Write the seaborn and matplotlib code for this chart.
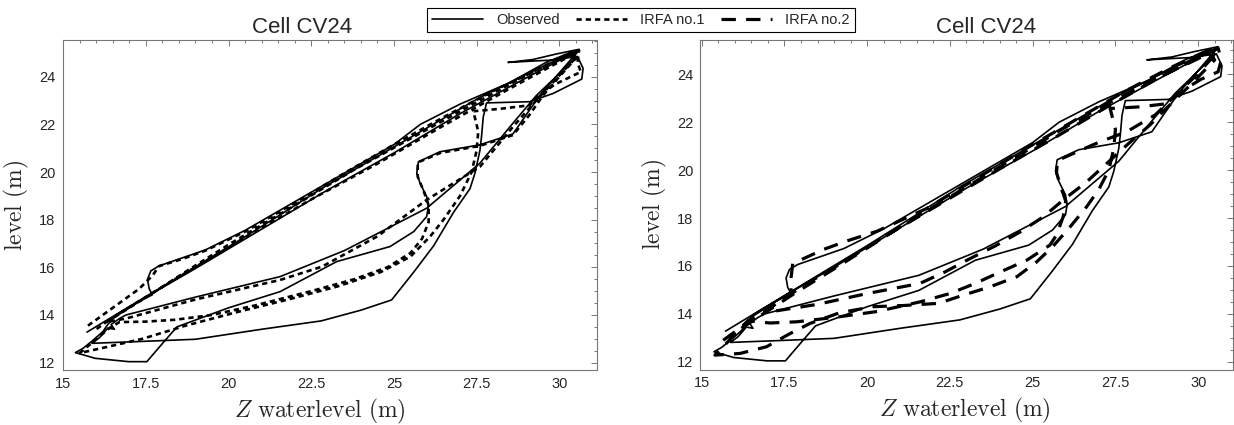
import numpy as np
import pandas as pd
import matplotlib
matplotlib.use("Agg")
import matplotlib.pyplot as plt
from matplotlib.lines import Line2D
from matplotlib.ticker import FixedLocator, FixedFormatter, MultipleLocator
import seaborn as sns

# ---------------- data ----------------
obs_z = [15.72, 17.0, 18.5, 20.0, 21.5, 22.83, 24.5, 26.0, 27.5, 29.0, 30.0, 30.5,
         30.6, 29.9, 29.2, 28.45, 29.8, 30.55, 30.72, 30.68, 29.82, 29.1, 27.8, 27.7, 27.65, 27.6, 27.45, 27.3,
         26.8, 26.2, 25.6, 24.93, 24.0, 22.8, 21.0, 19.0, 17.2, 15.87,
         16.1, 16.35, 16.55, 16.45, 16.7, 16.9, 19.0, 21.56, 23.5, 25.99, 27.6, 28.6, 29.3, 29.9, 30.5,
         30.4, 29.6, 28.5, 27.0, 25.8, 25.0, 23.5, 22.0, 20.5, 19.3, 17.9, 17.65, 17.55, 17.6, 17.7, 17.2, 16.6, 16.35,
         16.2, 15.87, 15.6, 15.37, 15.97, 16.98, 17.53, 18.0, 18.44, 20.0, 21.56, 23.27, 24.88, 25.6, 25.99, 26.04,
         25.99, 25.79, 25.69, 25.74, 26.39, 27.6, 28.6, 29.0, 29.4, 29.9, 30.4, 30.6,
         30.3, 29.0, 27.0, 25.0, 23.0, 21.0, 19.0, 17.5, 16.6, 16.4]
obs_level = [13.28, 14.35, 15.6, 16.85, 18.15, 19.32, 20.65, 21.85, 23.05, 24.1, 24.75, 25.05,
             25.15, 24.95, 24.72, 24.6, 24.7, 24.85, 24.35, 23.9, 23.3, 22.95, 22.9, 22.3, 21.5, 20.9, 19.95, 19.3,
             18.3, 16.9, 15.8, 14.63, 14.2, 13.75, 13.4, 12.98, 12.88, 12.81,
             13.05, 13.45, 13.4, 13.6, 13.85, 14.0, 14.75, 15.61, 16.7, 18.48, 20.37, 22.05, 23.2, 24.0, 24.8,
             25.05, 24.6, 23.75, 22.85, 22.0, 21.15, 19.95, 18.75, 17.55, 16.73, 16.06, 15.85, 15.5, 15.1, 14.85, 14.5, 14.0, 13.6,
             13.3, 12.9, 12.6, 12.42, 12.18, 12.04, 12.04, 12.8, 13.5, 14.3, 14.98, 16.24, 16.87, 17.5, 18.13, 18.55,
             18.97, 19.53, 19.95, 20.43, 20.85, 21.14, 21.6, 22.4, 23.2, 24.0, 24.8, 25.1,
             24.9, 23.95, 22.45, 20.8, 19.25, 17.6, 15.95, 14.75, 13.95, 13.75]

irfa1_z = [15.75, 16.5, 17.3, 17.7, 17.9, 18.6, 19.3, 20.5, 22.0, 23.5, 25.0, 26.5, 28.0, 29.5, 30.6,
           30.55, 30.65, 29.9, 29.35, 29.1, 28.2, 27.4, 27.55, 27.5, 27.35, 27.0, 26.5, 26.1, 25.5, 24.6, 23.3,
           21.8, 20.2, 18.7, 17.4, 16.3, 15.5,
           15.8, 16.1, 16.4, 16.7, 17.5, 18.4, 19.5, 20.8, 22.5, 23.8, 24.8, 25.5, 25.85, 26.05, 26.05, 25.9,
           25.72, 25.72, 26.4, 27.6, 28.6, 29.1, 29.5, 30.0, 30.55,
           30.3, 28.8, 27.2, 25.5, 23.8, 22.0, 20.0, 18.8, 17.8, 17.0, 16.6, 16.3,
           16.9, 19.0, 21.56, 22.83, 24.5, 25.99, 27.6, 28.6, 29.3, 29.9, 30.5,
           30.3, 28.5, 26.5, 24.5, 22.5, 20.5, 18.5, 17.2, 16.4, 16.0]
irfa1_level = [13.55, 14.3, 15.1, 15.65, 16.05, 16.35, 16.7, 17.5, 18.7, 19.95, 21.15, 22.3, 23.4, 24.4, 25.1,
               24.6, 24.2, 23.7, 23.2, 22.8, 22.65, 22.55, 21.7, 20.9, 20.0, 19.0, 18.0, 17.3, 16.45, 15.8, 15.2,
               14.65, 14.1, 13.55, 13.0, 12.65, 12.4,
               12.75, 13.1, 13.45, 13.7, 13.72, 13.8, 14.0, 14.4, 15.0, 15.5, 16.0, 16.6, 17.2, 17.9, 18.6, 19.2,
               19.8, 20.4, 20.8, 21.1, 21.55, 22.4, 23.2, 24.0, 24.85,
               25.0, 23.9, 22.7, 21.4, 20.1, 18.6, 16.95, 15.9, 15.0, 14.3, 13.95, 13.7,
               13.85, 14.65, 15.47, 16.03, 17.3, 18.83, 20.22, 21.9, 23.0, 23.9, 24.8,
               24.85, 23.5, 21.95, 20.35, 18.85, 17.25, 15.6, 14.5, 13.8, 13.4]

irfa2_z = [15.65, 16.0, 16.4, 16.9, 17.6, 18.4, 19.2, 20.2, 21.5, 23.0, 24.5, 26.0, 27.5, 29.0, 30.0, 30.6,
           30.7, 30.6, 30.1, 29.5, 29.1, 28.25, 27.34, 27.5, 27.45, 27.3, 27.0, 26.63, 26.13, 25.6, 25.12, 24.52,
           23.71, 22.9, 22.15, 21.1, 20.18, 19.17, 18.27, 17.67, 16.96, 16.16, 15.4,
           15.8, 16.1, 16.4, 17.06, 17.87, 19.0, 20.3, 21.59, 22.5, 23.26, 24.02, 24.82, 25.52, 25.72, 25.92,
           26.0, 25.85, 25.72, 25.75, 26.33, 27.03, 27.84, 28.7, 29.3, 29.9, 30.5,
           30.3, 29.2, 27.8, 26.3, 24.8, 23.3, 21.8, 20.3, 19.4, 18.7, 17.75, 17.7, 17.7, 17.3, 16.9,
           18.5, 20.0, 21.59, 22.35, 23.11, 23.86, 24.62, 25.32, 25.92, 26.63, 27.24, 27.84, 28.54, 29.2, 29.8, 30.5,
           30.3, 28.8, 27.2, 25.6, 24.0, 22.4, 20.8, 19.2, 17.8, 16.8, 16.2]
irfa2_level = [12.9, 13.25, 13.65, 14.1, 14.75, 15.45, 16.1, 16.95, 18.05, 19.3, 20.55, 21.8, 22.95, 24.0, 24.65, 25.1,
               24.6, 24.1, 23.8, 23.3, 22.78, 22.64, 22.57, 21.7, 20.9, 20.0, 19.2, 18.47, 17.63, 16.8, 16.17, 15.55,
               15.13, 14.78, 14.44, 14.35, 14.3, 14.05, 13.6, 13.18, 12.63, 12.35, 12.28,
               12.85, 13.3, 13.72, 13.62, 13.67, 13.85, 14.1, 14.5, 14.85, 15.27, 15.75, 16.24, 16.87, 17.29, 18.05,
               18.7, 19.3, 19.9, 20.4, 20.76, 21.18, 21.6, 22.3, 23.1, 23.9, 24.8,
               25.0, 24.3, 23.3, 22.1, 20.9, 19.65, 18.4, 17.45, 17.05, 16.7, 16.1, 15.5, 14.9, 14.5, 14.05,
               14.4, 14.85, 15.27, 15.75, 16.31, 16.83, 17.42, 18.05, 18.75, 19.51, 20.28, 21.04, 21.88, 22.8, 23.6, 24.6,
               24.9, 23.85, 22.6, 21.3, 20.05, 18.75, 17.45, 16.05, 14.85, 13.95, 13.4]

x_ticks = [15, 17.5, 20, 22.5, 25, 27.5, 30]
x_tick_labels = ["15", "17.5", "20", "22.5", "25", "27.5", "30"]
y_ticks = [12, 14, 16, 18, 20, 22, 24]
y_tick_labels = ["12", "14", "16", "18", "20", "22", "24"]
legend_labels = ["Observed", "IRFA no.1", "IRFA no.2"]
panel_title = "Cell CV24"

# ---------------- style ----------------
sns.set_style("white")
plt.rcParams["font.family"] = ["Liberation Sans", "DejaVu Sans"]
plt.rcParams["mathtext.fontset"] = "cm"

obs_style = dict(color="black", linewidth=1.2, linestyle="-")
irfa1_style = dict(color="black", linewidth=1.9, linestyle=(0, (2.0, 1.5)))
irfa2_style = dict(color="black", linewidth=2.3, linestyle=(0, (4.5, 3.2)))

fig = plt.figure(figsize=(12.34, 4.25), dpi=100)
ax1 = fig.add_axes([62.5 / 1234, 1 - 370 / 425, 534.5 / 1234, 330 / 425])
ax2 = fig.add_axes([700.2 / 1234, 1 - 369.5 / 425, 532.4 / 1234, 330 / 425])

obs_df = pd.DataFrame({"z": obs_z, "level": obs_level})
irfa1_df = pd.DataFrame({"z": irfa1_z, "level": irfa1_level})
irfa2_df = pd.DataFrame({"z": irfa2_z, "level": irfa2_level})

sns.lineplot(data=irfa1_df, x="z", y="level", sort=False, estimator=None, ax=ax1, **irfa1_style)
sns.lineplot(data=obs_df, x="z", y="level", sort=False, estimator=None, ax=ax1, **obs_style)
sns.lineplot(data=irfa2_df, x="z", y="level", sort=False, estimator=None, ax=ax2, **irfa2_style)
sns.lineplot(data=obs_df, x="z", y="level", sort=False, estimator=None, ax=ax2, **obs_style)

limits = [((14.98, 31.14), (11.69, 25.54)), ((14.955, 31.04), (11.68, 25.45))]
title_x = [0.448, 0.537]
xlabel_x = [0.482, 0.497]
for ax, (xl, yl), tx, lx in zip([ax1, ax2], limits, title_x, xlabel_x):
    ax.set_xlim(*xl)
    ax.set_ylim(*yl)
    ax.xaxis.set_major_locator(FixedLocator(x_ticks))
    ax.xaxis.set_major_formatter(FixedFormatter(x_tick_labels))
    ax.yaxis.set_major_locator(FixedLocator(y_ticks))
    ax.yaxis.set_major_formatter(FixedFormatter(y_tick_labels))
    ax.xaxis.set_minor_locator(MultipleLocator(0.5))
    ax.yaxis.set_minor_locator(MultipleLocator(0.5))
    ax.tick_params(which="both", direction="in", top=True, right=True,
                   color="#777777", width=0.7)
    ax.tick_params(which="major", length=4, labelsize=10.5, pad=5)
    ax.tick_params(which="minor", length=2.5)
    for sp in ax.spines.values():
        sp.set_color("#777777")
        sp.set_linewidth(0.8)
    ax.set_title(panel_title, fontsize=16, pad=5, x=tx)
    ax.set_xlabel(r"$Z\ \mathrm{waterlevel\ (m)}$", fontsize=17, labelpad=4, x=lx)
    ax.set_ylabel(r"$\mathrm{level\ (m)}$", fontsize=17, labelpad=6)
    ax.grid(False)

handles = [Line2D([], [], **obs_style), Line2D([], [], **irfa1_style), Line2D([], [], **irfa2_style)]
leg = fig.legend(handles, legend_labels, loc="center", bbox_to_anchor=(641 / 1234, 1 - 20 / 425),
                 ncol=3, frameon=True, fancybox=False, edgecolor="black", framealpha=1,
                 fontsize=10.5, handlelength=3.5, columnspacing=1.1, borderpad=0.35,
                 handletextpad=0.9, borderaxespad=0)
leg.get_frame().set_linewidth(0.8)

fig.savefig("out.png", dpi=100)
